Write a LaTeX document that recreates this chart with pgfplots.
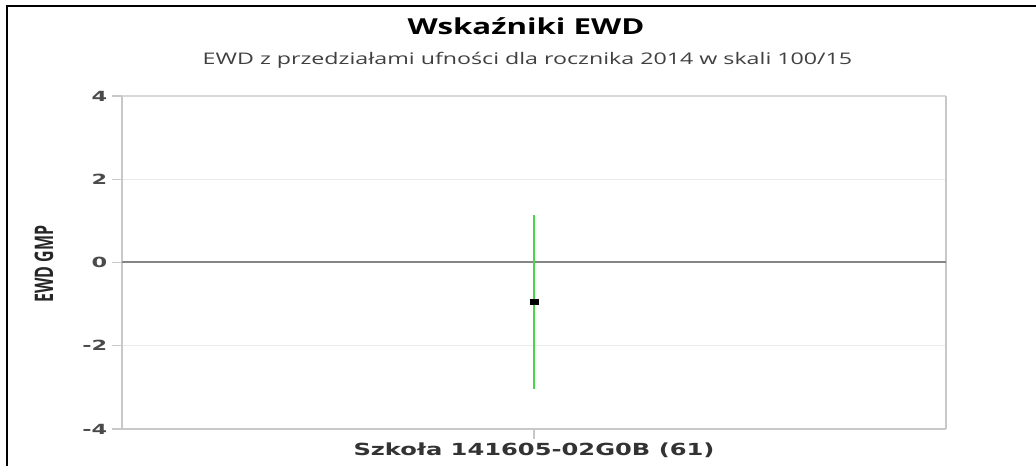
\documentclass[border=0pt]{standalone}
\usepackage{fontspec}
\usepackage{pgfplots}
\pgfplotsset{compat=1.18}
\setmainfont{DejaVu Sans}
\newfontfamily\osans{Open Sans}
\definecolor{ewdgreen}{HTML}{4BD44B}
\definecolor{gridgray}{HTML}{EBEBEB}
\definecolor{axgray}{HTML}{C8C8C8}
\definecolor{zerogray}{HTML}{858585}
\definecolor{ticktext}{HTML}{4A4A4A}
\begin{document}
\begin{tikzpicture}
\useasboundingbox (0,0) rectangle (777pt,349.5pt);
% frame of the screenshot (top and left only)
\draw[black, line width=1.5pt] (5.25pt,0) -- (5.25pt,345pt) -- (777pt,345pt);
\node[anchor=base] at (394.5pt,323.25pt) {\scalebox{1.42}[1]{\osans\bfseries\fontsize{16.5pt}{19pt}\selectfont Wskaźniki EWD}};
\node[anchor=base, text=black!75] at (395.6pt,300.75pt) {\scalebox{1.45}[1]{\osans\fontsize{12pt}{14pt}\selectfont EWD z przedziałami ufności dla rocznika 2014 w skali 100/15}};
\node[rotate=90, text=black!85] at (33pt,151.5pt) {\scalebox{1}[1.6]{\osans\bfseries\fontsize{12pt}{14pt}\selectfont EWD GMP}};
\begin{axis}[
  scale only axis, width=618pt, height=249.75pt,
  at={(91.5pt,27.75pt)}, anchor=south west,
  xmin=-1, xmax=1, ymin=-4, ymax=4,
  xtick={0}, xticklabels={\scalebox{1.45}[1]{\bfseries Szkoła 141605-02G0B (61)}},
  ytick={-4,-2,0,2,4}, yticklabels={\scalebox{1.6}[1]{-4},\scalebox{1.6}[1]{-2},\scalebox{1.6}[1]{0},\scalebox{1.6}[1]{2},\scalebox{1.6}[1]{4}},
  xtick pos=left, ytick pos=left, tick align=outside,
  major tick length=7.5pt, tick style={draw=axgray, line width=0.8pt},
  xticklabel style={font=\fontsize{12.5pt}{14pt}\selectfont, text=black!80, yshift=1pt},
  yticklabel style={font=\bfseries\fontsize{10.5pt}{12pt}\selectfont, text=ticktext},
  ymajorgrids, grid style={draw=gridgray, line width=0.8pt},
  axis line style={draw=none},
  clip=false,
]
\draw[axgray!70, line width=0.8pt] (rel axis cs:0,1) -- (rel axis cs:1,1);
\draw[axgray, line width=1.5pt] (rel axis cs:1,0) -- (rel axis cs:1,1);
\draw[axgray, line width=1.5pt] (rel axis cs:0,0) -- (rel axis cs:1,0);
\draw[axgray, line width=2.2pt] (rel axis cs:0,0) -- (rel axis cs:0,1);
\draw[zerogray, line width=1.5pt] (axis cs:-1,0) -- (axis cs:1,0);
\addplot[only marks, mark=square*, mark size=1.9pt, mark options={xscale=1.6, draw=black, fill=black},
  error bars/.cd, y dir=both, y explicit, error mark=none,
  error bar style={draw=ewdgreen, line width=2pt}]
  coordinates {(0,-0.94) += (0,2.07) -= (0,2.09)};
\end{axis}
\end{tikzpicture}
\end{document}
